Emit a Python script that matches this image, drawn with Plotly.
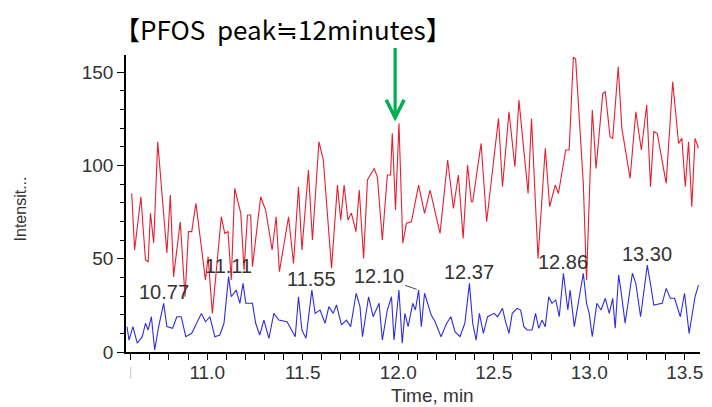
import plotly.graph_objects as go

# ---- data ----
red_t = [10.605, 10.620, 10.653, 10.677, 10.691, 10.703, 10.720, 10.741, 10.789, 10.807,
         10.824, 10.859, 10.884, 10.902, 10.919, 10.941, 10.991, 11.005, 11.027, 11.074,
         11.092, 11.109, 11.126, 11.144, 11.176, 11.193, 11.211, 11.228, 11.237, 11.280,
         11.306, 11.340, 11.361, 11.378, 11.426, 11.452, 11.478, 11.496, 11.530, 11.551,
         11.585, 11.608, 11.651, 11.682, 11.699, 11.717, 11.737, 11.755, 11.779, 11.796,
         11.819, 11.839, 11.874, 11.891, 11.917, 11.943, 11.960, 11.969, 11.986, 12.004,
         12.024, 12.043, 12.069, 12.107, 12.138, 12.167, 12.219, 12.259, 12.289, 12.315,
         12.340, 12.363, 12.383, 12.390, 12.434, 12.463, 12.525, 12.546, 12.580, 12.611,
         12.632, 12.680, 12.698, 12.732, 12.770, 12.793, 12.822, 12.839, 12.877, 12.895,
         12.917, 12.929, 12.969, 12.986, 13.016, 13.036, 13.071, 13.084, 13.109, 13.123,
         13.152, 13.171, 13.214, 13.244, 13.273, 13.301, 13.321, 13.338, 13.356, 13.403,
         13.437, 13.468, 13.485, 13.503, 13.520, 13.537, 13.554, 13.572]
red_v = [85.0, 54.7, 83.2, 49.3, 48.4, 74.5, 58.4, 112.7, 53.1, 84.1,
         40.4, 69.8, 29.6, 64.5, 64.5, 79.7, 38.6, 51.1, 20.7, 72.5,
         63.6, 64.5, 38.6, 87.7, 74.3, 43.9, 73.4, 73.4, 45.7, 83.2,
         76.1, 54.7, 72.5, 43.0, 72.5, 47.5, 88.6, 54.7, 97.5, 60.0,
         112.7, 102.9, 44.9, 89.5, 70.7, 89.5, 70.7, 74.5, 64.5, 86.8,
         50.2, 92.2, 98.4, 93.9, 60.0, 94.9, 94.9, 117.2, 76.1, 122.6,
         58.3, 69.0, 69.8, 89.5, 74.3, 86.8, 63.6, 102.9, 77.0, 94.9,
         60.9, 100.2, 80.5, 80.5, 111.8, 69.8, 125.2, 88.6, 128.8, 99.3,
         135.0, 85.0, 125.2, 50.2, 109.2, 77.9, 89.5, 85.0, 108.3, 108.3,
         158.0, 157.0, 90.4, 38.6, 129.7, 98.4, 138.6, 139.5, 115.4, 114.5,
         152.9, 119.9, 93.1, 128.8, 108.3, 132.4, 88.6, 118.1, 117.2, 90.4,
         144.9, 111.8, 114.5, 88.6, 112.7, 77.9, 114.5, 109.2]

blue_t = [10.580, 10.591, 10.611, 10.634, 10.660, 10.677, 10.691, 10.708, 10.725, 10.746,
          10.772, 10.789, 10.819, 10.841, 10.864, 10.888, 10.919, 10.939, 10.970, 10.991,
          11.014, 11.040, 11.066, 11.088, 11.112, 11.126, 11.152, 11.171, 11.188, 11.202,
          11.237, 11.254, 11.275, 11.297, 11.323, 11.349, 11.375, 11.418, 11.461, 11.478,
          11.496, 11.517, 11.548, 11.565, 11.591, 11.617, 11.637, 11.660, 11.677, 11.703,
          11.729, 11.751, 11.780, 11.800, 11.813, 11.845, 11.869, 11.900, 11.917, 11.943,
          11.965, 11.978, 12.004, 12.021, 12.035, 12.052, 12.076, 12.090, 12.107, 12.121,
          12.138, 12.173, 12.193, 12.224, 12.254, 12.276, 12.297, 12.323, 12.349, 12.373,
          12.390, 12.408, 12.425, 12.446, 12.468, 12.503, 12.520, 12.546, 12.560, 12.580,
          12.597, 12.623, 12.641, 12.658, 12.675, 12.701, 12.719, 12.736, 12.753, 12.770,
          12.788, 12.805, 12.825, 12.843, 12.865, 12.888, 12.900, 12.922, 12.943, 12.969,
          12.986, 13.000, 13.016, 13.040, 13.062, 13.084, 13.105, 13.123, 13.136, 13.154,
          13.166, 13.188, 13.226, 13.244, 13.269, 13.304, 13.326, 13.338, 13.382, 13.403,
          13.425, 13.447, 13.477, 13.499, 13.523, 13.554, 13.572]
blue_v = [13.6, 6.4, 13.6, 4.7, 8.2, 15.4, 11.8, 18.9, 1.1, 13.6,
          26.1, 13.6, 12.7, 18.9, 18.9, 8.2, 10.0, 14.5, 20.7, 16.2,
          18.9, 8.2, 9.1, 15.4, 40.4, 29.6, 33.2, 26.1, 36.8, 26.1,
          26.1, 15.4, 9.1, 17.1, 7.3, 20.7, 17.1, 16.2, 8.2, 29.6,
          11.8, 7.3, 33.2, 20.7, 22.5, 15.4, 24.3, 20.7, 25.2, 14.5,
          17.1, 13.6, 31.5, 24.3, 8.2, 29.6, 18.9, 26.1, 6.4, 22.5,
          29.6, 6.4, 33.2, 4.7, 20.7, 13.6, 26.1, 22.5, 33.2, 13.6,
          31.5, 19.8, 16.2, 8.2, 15.4, 18.9, 10.9, 8.2, 15.4, 36.8,
          15.4, 6.4, 20.7, 10.0, 18.9, 20.7, 18.9, 23.4, 17.1, 10.0,
          20.7, 23.4, 22.5, 13.6, 11.8, 11.8, 20.7, 12.7, 17.1, 13.6,
          29.6, 26.1, 27.9, 18.9, 42.2, 22.5, 33.2, 13.6, 26.1, 42.2,
          26.1, 20.7, 8.2, 26.1, 22.5, 28.8, 20.7, 28.8, 12.7, 41.3,
          33.2, 15.4, 42.2, 36.8, 18.9, 46.6, 33.2, 25.2, 26.1, 34.1,
          28.8, 28.8, 18.9, 31.5, 10.0, 29.6, 35.9]

peak_t = [10.772, 11.112, 11.548, 12.107, 12.373, 12.865, 13.304]
peak_v = [26.1, 40.4, 33.2, 33.2, 36.8, 42.2, 46.6]
peak_labels = ["10.77", "11.11", "11.55", "12.10", "12.37", "12.86", "13.30"]

x_tick_vals = [11.0, 11.5, 12.0, 12.5, 13.0, 13.5]
x_tick_text = ["11.0", "11.5", "12.0", "12.5", "13.0", "13.5"]
y_tick_vals = [0, 50, 100, 150]

title_text = "【PFOS  peak≒12minutes】"
pfos_peak_t, pfos_peak_v = 11.984, 123.5
marker_v = 12.5
clipped_tick_t = 10.6

X0, X1 = 10.575, 13.58
Y0, Y1 = 0, 159.2

fig = go.Figure()
fig.add_trace(go.Scatter(x=red_t, y=red_v, mode="lines",
                         line=dict(color="rgb(232,30,45)", width=1.1), hoverinfo="skip"))
fig.add_trace(go.Scatter(x=blue_t, y=blue_v, mode="lines",
                         line=dict(color="rgb(45,45,225)", width=1.1), hoverinfo="skip"))

axis_font = dict(family="Liberation Sans, Arial", size=19, color="#333333")
label_font = dict(family="Liberation Sans, Arial", size=20, color="#333333")

# the page body adds an 8px offset; the figure is sized to fit the window
fig.update_layout(
    width=704, height=399,
    margin=dict(l=118, r=9, t=47, b=55),
    paper_bgcolor="white", plot_bgcolor="white",
    showlegend=False,
    xaxis=dict(range=[X0, X1], showgrid=False, zeroline=False,
               showline=True, linecolor="black", linewidth=1.5,
               tickmode="array", tickvals=x_tick_vals, ticktext=x_tick_text,
               ticks="outside", ticklen=6, tickwidth=1.2, tickcolor="black",
               tickfont=axis_font, ticklabelstandoff=-4,
               minor=dict(dtick=0.1, tick0=10.6, ticks="outside", ticklen=6,
                          tickwidth=1.2, tickcolor="black")),
    yaxis=dict(range=[Y0, Y1], showgrid=False, zeroline=False,
               showline=True, linecolor="black", linewidth=1.5,
               tickmode="array", tickvals=y_tick_vals,
               ticks="outside", ticklen=7, tickwidth=1.2, tickcolor="black",
               tickfont=axis_font,
               minor=dict(dtick=10, tick0=0, ticks="outside", ticklen=4,
                          tickwidth=1.2, tickcolor="black")),
)

annotations = []
for t, v, lab in zip(peak_t, peak_v, peak_labels):
    if lab == "12.10":
        annotations.append(dict(x=t, y=v, text=lab, showarrow=True, arrowhead=0,
                                arrowwidth=1, arrowcolor="#444", ax=-40, ay=-14,
                                standoff=2, font=label_font))
    else:
        annotations.append(dict(x=t, y=v, text=lab, showarrow=False,
                                yanchor="bottom", yshift=-2, font=label_font))

annotations.append(dict(x=pfos_peak_t, y=pfos_peak_v, text="", showarrow=True,
                        arrowhead=5, arrowwidth=3.2, arrowsize=1.1,
                        arrowcolor="#00B050", ax=0, ay=-75, standoff=0))
annotations.append(dict(xref="paper", yref="paper", x=0, xshift=157, y=1.0, yshift=27,
                        text=title_text, showarrow=False, xanchor="center",
                        yanchor="middle",
                        font=dict(family="Noto Sans CJK JP", size=26, color="black")))
annotations.append(dict(xref="paper", yref="paper", x=0, xshift=306, y=0, yshift=-43,
                        text="Time, min", showarrow=False, xanchor="center",
                        yanchor="middle", font=axis_font))
annotations.append(dict(xref="paper", yref="paper", x=0, xshift=-106, y=0.48,
                        text="Intensit...", showarrow=False, textangle=-90,
                        xanchor="center", yanchor="middle",
                        font=dict(family="Liberation Sans, Arial", size=16, color="#333333")))
# faint remnant of the clipped first tick label
annotations.append(dict(x=clipped_tick_t, xref="x", y=0, yref="paper", yshift=-20,
                        text="|", showarrow=False, yanchor="middle",
                        font=dict(family="Liberation Sans, Arial", size=12, color="#c8c8c8")))
fig.update_layout(annotations=annotations)

# blue triangle marker on the y axis
fig.add_shape(type="path", xref="x", yref="y", xsizemode="pixel", ysizemode="pixel",
              xanchor=X0, yanchor=marker_v, path="M -10,8 L -1,0 L -10,-8 Z",
              fillcolor="rgb(20,20,170)", line=dict(width=0), layer="above")

fig.write_html("out.html")
